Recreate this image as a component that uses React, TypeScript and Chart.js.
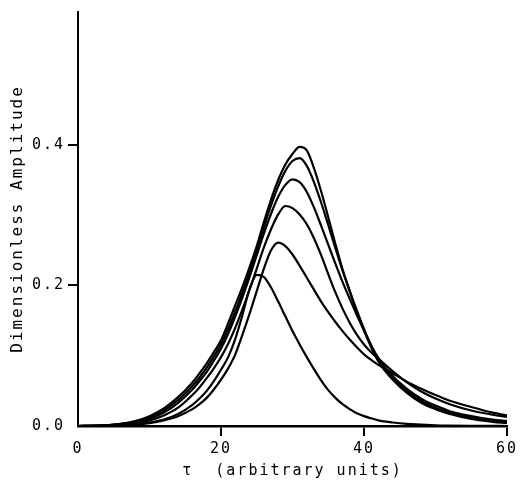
import { useEffect, useRef } from 'react';
import { Chart, registerables } from 'chart.js';

Chart.register(...registerables);

const tau = [0, 2, 4, 6, 8, 10, 12, 14, 16, 17, 18, 19, 20, 21, 22, 23, 24, 25, 26, 27, 28, 29, 30, 31, 32, 33, 34, 35, 36, 37, 38, 39, 40, 41, 42, 44, 46, 48, 50, 52, 55, 58, 60];

const curveA = [0, 0.0003, 0.001, 0.003, 0.007, 0.014, 0.025, 0.041, 0.062, 0.075, 0.089, 0.105, 0.122, 0.146, 0.172, 0.198, 0.226, 0.256, 0.29, 0.322, 0.35, 0.372, 0.387, 0.397, 0.392, 0.367, 0.334, 0.297, 0.259, 0.223, 0.192, 0.163, 0.136, 0.112, 0.092, 0.066, 0.047, 0.033, 0.024, 0.017, 0.01, 0.006, 0.004];

const curveB = [0, 0.0003, 0.001, 0.003, 0.006, 0.012, 0.022, 0.037, 0.057, 0.069, 0.083, 0.099, 0.116, 0.138, 0.163, 0.19, 0.219, 0.25, 0.283, 0.314, 0.341, 0.363, 0.377, 0.381, 0.37, 0.347, 0.318, 0.286, 0.253, 0.221, 0.192, 0.164, 0.138, 0.114, 0.094, 0.068, 0.05, 0.036, 0.026, 0.019, 0.012, 0.007, 0.005];

const curveC = [0, 0.0002, 0.001, 0.002, 0.005, 0.01, 0.019, 0.033, 0.052, 0.064, 0.077, 0.093, 0.11, 0.131, 0.156, 0.183, 0.212, 0.243, 0.274, 0.302, 0.326, 0.343, 0.351, 0.347, 0.333, 0.311, 0.285, 0.258, 0.231, 0.205, 0.181, 0.158, 0.136, 0.115, 0.097, 0.071, 0.053, 0.039, 0.029, 0.021, 0.014, 0.009, 0.007];

const curveD = [0, 0.0002, 0.0008, 0.002, 0.004, 0.008, 0.015, 0.026, 0.044, 0.055, 0.068, 0.082, 0.098, 0.117, 0.14, 0.166, 0.194, 0.224, 0.254, 0.28, 0.301, 0.313, 0.31, 0.301, 0.287, 0.267, 0.243, 0.216, 0.19, 0.167, 0.147, 0.13, 0.116, 0.105, 0.096, 0.078, 0.062, 0.049, 0.039, 0.031, 0.022, 0.016, 0.013];

const curveE = [0, 0.0001, 0.0004, 0.001, 0.002, 0.004, 0.008, 0.014, 0.024, 0.031, 0.04, 0.052, 0.066, 0.082, 0.102, 0.13, 0.16, 0.192, 0.224, 0.25, 0.261, 0.256, 0.244, 0.228, 0.211, 0.194, 0.177, 0.162, 0.148, 0.135, 0.123, 0.112, 0.102, 0.094, 0.087, 0.075, 0.063, 0.053, 0.044, 0.036, 0.027, 0.019, 0.015];

const curveF = [0, 0.0001, 0.0005, 0.001, 0.002, 0.005, 0.009, 0.017, 0.03, 0.039, 0.05, 0.064, 0.08, 0.098, 0.124, 0.158, 0.195, 0.215, 0.212, 0.197, 0.177, 0.156, 0.135, 0.116, 0.098, 0.081, 0.065, 0.051, 0.04, 0.031, 0.024, 0.018, 0.014, 0.011, 0.008, 0.005, 0.003, 0.002, 0.001, 0.0005, 0.0002, 0.0001, 0];

const xTicks = [0, 20, 40, 60];
const yTicks = [0, 0.2, 0.4];

const FONT = 'DejaVu Sans Mono';

export default function App() {
  const ref = useRef<HTMLCanvasElement>(null);

  useEffect(() => {
    const canvas = ref.current;
    if (!canvas) return;
    const series = [curveA, curveB, curveC, curveD, curveE, curveF];
    const datasets = series.map((vals) => ({
      data: tau.map((t, i) => ({ x: t, y: vals[i] })),
      borderColor: '#000',
      borderWidth: 2.2,
      pointRadius: 0,
      fill: false,
      cubicInterpolationMode: 'monotone' as const,
    }));
    const tickColor = (c: any) => (c.tick && c.tick.value === 0 ? 'rgba(0,0,0,0)' : '#000');
    const chart = new Chart(canvas, {
      type: 'line',
      data: { datasets },
      options: {
        responsive: false,
        animation: false,
        layout: { padding: { top: 11, right: 15, left: 0, bottom: 0 } },
        plugins: { legend: { display: false }, tooltip: { enabled: false } },
        scales: {
          x: {
            type: 'linear',
            min: 0,
            max: 60,
            afterFit: (s: any) => { s.height = 59; },
            afterBuildTicks: (s: any) => { s.ticks = xTicks.map((v) => ({ value: v })); },
            grid: { drawOnChartArea: false, drawTicks: true, tickLength: 10, color: tickColor, lineWidth: 2 },
            border: { display: true, color: '#000', width: 2.5 },
            ticks: { color: '#000', padding: 4, font: { family: FONT, size: 15 }, callback: (v: any) => String(v) },
            title: { display: true, text: 'τ  (arbitrary units)', color: '#000', font: { family: FONT, size: 15 }, padding: { top: 0, bottom: 5 } },
          },
          y: {
            type: 'linear',
            min: 0,
            max: 0.589,
            afterFit: (s: any) => { s.width = 78; },
            afterBuildTicks: (s: any) => { s.ticks = yTicks.map((v) => ({ value: v })); },
            grid: { drawOnChartArea: false, drawTicks: true, tickLength: 10, color: tickColor, lineWidth: 2 },
            border: { display: true, color: '#000', width: 2 },
            ticks: { color: '#000', padding: 3, font: { family: FONT, size: 15 }, callback: (v: any) => Number(v).toFixed(1) },
            title: { display: true, text: 'Dimensionless Amplitude', color: '#000', font: { family: FONT, size: 16 }, padding: { top: 8, bottom: 0 } },
          },
        },
      },
      plugins: [
        {
          id: 'letterSpacing',
          beforeDraw(c: any) {
            (c.ctx as any).letterSpacing = '2px';
          },
        },
      ],
    });
    return () => chart.destroy();
  }, []);

  return (
    <div style={{ position: 'fixed', left: 0, top: 0, width: 522, height: 485, background: '#fff' }}>
      <canvas ref={ref} width={522} height={485} style={{ display: 'block' }} />
    </div>
  );
}
